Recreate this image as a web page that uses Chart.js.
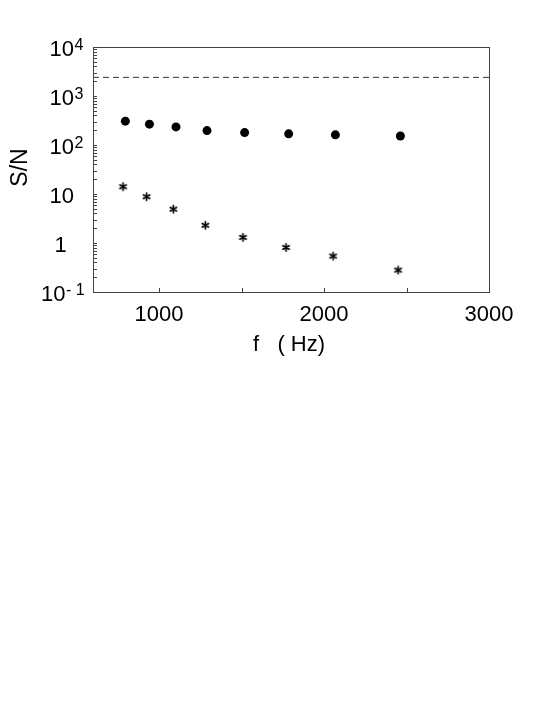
<!DOCTYPE html>
<html>
<head>
<meta charset="utf-8">
<script src="https://cdn.jsdelivr.net/npm/chart.js@4.4.1/dist/chart.umd.min.js"></script>
<style>
  html, body { margin: 0; padding: 0; background: #fff; }
  #wrap { width: 545px; height: 705px; }
</style>
</head>
<body>
<div id="wrap"><canvas id="snChart" width="545" height="705"></canvas></div>
<script>
const freqCircles = [796, 942, 1103, 1291, 1519, 1786, 2069, 2463];
const snCircles = [307, 266, 234, 197, 179, 169, 161, 153];
const freqStars = [782, 925, 1087, 1281, 1509, 1770, 2055, 2449];
const snStars = [14.1, 8.8, 4.9, 2.3, 1.3, 0.81, 0.54, 0.28];
const limitLevel = 2400;

// axes
const xRange = [600, 3000];
const yRange = [0.1, 10000];
const xTicks = [1000, 1500, 2000, 2500, 3000];
const xTickLabels = ['1000', '', '2000', '', '3000'];
const yDecades = [0.1, 1, 10, 100, 1000, 10000];
const yLabelBase = ['10', '1', '10', '10', '10', '10'];
const yLabelSup = ['- 1', '', '', '2', '3', '4'];

const FONT = '"Liberation Sans", Arial, sans-serif';

// little asterisk used as marker
function makeStar() {
    const c = document.createElement('canvas');
    c.width = 11; c.height = 11;
    const g = c.getContext('2d');
    g.strokeStyle = '#000';
    g.lineWidth = 1.7;
    g.lineCap = 'round';
    g.beginPath();
    for (let k = 0; k < 3; k++) {
        const ang = Math.PI / 2 + k * Math.PI / 3;
        const dx = Math.cos(ang) * 3.6, dy = Math.sin(ang) * 3.6;
        g.moveTo(5.5 - dx, 5.5 - dy);
        g.lineTo(5.5 + dx, 5.5 + dy);
    }
    g.stroke();
    return c;
}

const framePlugin = {
    id: 'framePlugin',
    afterDraw(chart) {
        const { ctx, chartArea: a, scales: { x, y } } = chart;
        ctx.save();
        ctx.strokeStyle = '#444';
        ctx.lineWidth = 1;
        ctx.strokeRect(Math.round(a.left) + 0.5, Math.round(a.top) + 0.5,
            Math.round(a.right - a.left), Math.round(a.bottom - a.top));

        // inward ticks
        ctx.beginPath();
        yDecades.forEach(d => {
            for (let m = 1; m <= 9; m++) {
                const v = d * m;
                if (v > yRange[1] + 1e-9) break;
                const py = Math.round(y.getPixelForValue(v)) + 0.5;
                ctx.moveTo(a.left, py);
                ctx.lineTo(a.left + 4, py);
            }
        });
        xTicks.forEach(v => {
            const px = Math.round(x.getPixelForValue(v)) + 0.5;
            ctx.moveTo(px, a.bottom);
            ctx.lineTo(px, a.bottom - 4);
        });
        ctx.stroke();

        // y labels with superscripts
        ctx.fillStyle = '#000';
        ctx.textBaseline = 'alphabetic';
        ctx.textAlign = 'left';
        yDecades.forEach((v, i) => {
            const py = y.getPixelForValue(v);
            const base = yLabelBase[i], sup = yLabelSup[i];
            let lx = 49.5;
            if (sup.indexOf('-') >= 0) lx = 41;
            else if (!sup && base === '1') lx = 54.5;
            ctx.font = '22px ' + FONT;
            ctx.fillText(base, lx, py + 8.5);
            if (sup) {
                const w = ctx.measureText(base).width;
                ctx.font = '16px ' + FONT;
                ctx.fillText(sup, lx + w + 0.5, py + 3);
            }
        });

        // axis titles
        ctx.font = '22px ' + FONT;
        ctx.textAlign = 'center';
        ctx.fillText('f   ( Hz)', 289, 350.5);
        ctx.save();
        ctx.translate(21, 167.5);
        ctx.rotate(-Math.PI / 2);
        ctx.font = '23px ' + FONT;
        ctx.textBaseline = 'middle';
        ctx.fillText('S/N', 0, 0);
        ctx.restore();
        ctx.restore();
    }
};

const ctx = document.getElementById('snChart');
new Chart(ctx, {
    type: 'scatter',
    data: {
        datasets: [{
            label: 'limit',
            data: xRange.map(f => ({ x: f, y: limitLevel })),
            showLine: true,
            borderColor: '#333',
            borderWidth: 1,
            borderDash: [6, 4],
            pointRadius: 0
        }, {
            label: 'circles',
            data: freqCircles.map((f, i) => ({ x: f, y: snCircles[i] })),
            pointStyle: 'circle',
            pointRadius: 4.5,
            backgroundColor: '#000',
            borderColor: '#000',
            borderWidth: 0
        }, {
            label: 'stars',
            data: freqStars.map((f, i) => ({ x: f, y: snStars[i] })),
            pointStyle: makeStar(),
            pointRadius: 5
        }]
    },
    options: {
        responsive: false,
        animation: false,
        events: [],
        layout: { padding: { left: 0, top: 47, right: 56, bottom: 373 } },
        plugins: {
            legend: { display: false },
            tooltip: { enabled: false }
        },
        scales: {
            x: {
                type: 'linear',
                min: xRange[0],
                max: xRange[1],
                afterBuildTicks: s => { s.ticks = xTicks.map(v => ({ value: v })); },
                afterFit: s => { s.height = 40; },
                grid: { display: false, drawTicks: false },
                border: { display: false },
                ticks: {
                    autoSkip: false,
                    maxRotation: 0,
                    padding: 10,
                    color: '#000',
                    font: { family: FONT, size: 22 },
                    callback: (v, i) => xTickLabels[i]
                }
            },
            y: {
                type: 'logarithmic',
                min: yRange[0],
                max: yRange[1],
                afterBuildTicks: s => { s.ticks = yDecades.map(v => ({ value: v })); },
                afterFit: s => { s.width = 93; },
                grid: { display: false, drawTicks: false },
                border: { display: false },
                ticks: { display: false }
            }
        }
    },
    plugins: [framePlugin]
});
</script>
</body>
</html>
